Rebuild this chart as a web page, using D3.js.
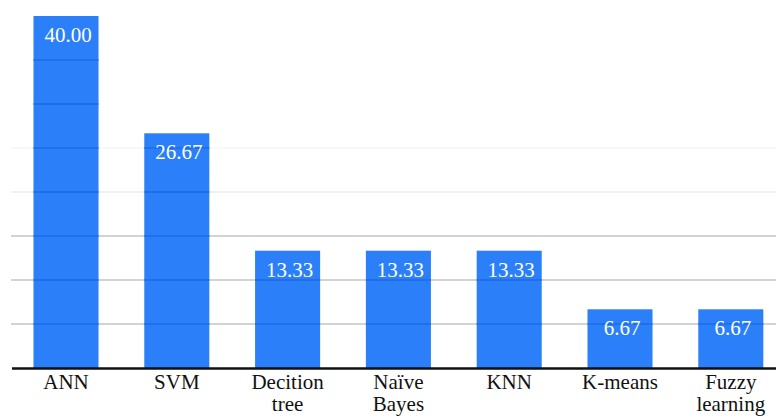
<!DOCTYPE html>
<html>
<head>
<meta charset="utf-8">
<script src="https://cdn.jsdelivr.net/npm/d3@7"></script>
<style>
  body { margin: 0; background: #fff; }
  svg { display: block; }
  text { font-family: "Liberation Serif", "Times New Roman", Tinos, serif; }
</style>
</head>
<body>
<svg></svg>
<script>
var categories = [["ANN"], ["SVM"], ["Decition", "tree"], ["Naïve", "Bayes"], ["KNN"], ["K-means"], ["Fuzzy", "learning"]],
    values = [40.00, 26.67, 13.33, 13.33, 13.33, 6.67, 6.67],
    gridTicks = [5, 10, 15, 20, 25, 30, 35]

var width = 776, height = 417

var svg = d3.select("svg")
    .attr("width", width)
    .attr("height", height)

var x = d3.scaleBand()
    .domain(d3.range(categories.length))
    .range([10.6, 786.2])
    .paddingInner(0.413)
    .paddingOuter(0.2065)

var y = d3.scaleLinear()
    .domain([0, 40])
    .range([368, 16])

// faint gridlines in the background, fading out towards the top
var gridColor = d => d <= 15 ? "#c4c4c4" : d == 20 ? "#ececec" : d == 25 ? "#f6f6f6" : "none"

svg.selectAll("line.grid")
    .data(gridTicks)
    .enter().append("line")
    .attr("class", "grid")
    .attr("x1", 11)
    .attr("x2", width)
    .attr("y1", d => y(d))
    .attr("y2", d => y(d))
    .style("stroke", gridColor)
    .style("stroke-width", "1.3px")

var bar = svg.selectAll("g.bar")
    .data(values)
    .enter().append("g")
    .attr("class", "bar")

bar.append("rect")
    .attr("x", (d, i) => x(i))
    .attr("y", d => y(d))
    .attr("width", x.bandwidth())
    .attr("height", d => y(0) - y(d))
    .style("fill", "#2b7ff8")

// gridlines show through the bars as darker bands
bar.each(function (v, i) {
    d3.select(this).selectAll("line")
        .data(gridTicks.filter(t => t < v))
        .enter().append("line")
        .attr("x1", x(i))
        .attr("x2", x(i) + x.bandwidth())
        .attr("y1", d => y(d))
        .attr("y2", d => y(d))
        .style("stroke", "#1c6be6")
        .style("stroke-width", "1.5px")
})

bar.append("text")
    .attr("x", (d, i) => x(i) + x.bandwidth() / 2 + 2)
    .attr("y", d => y(d) + 26)
    .attr("text-anchor", "middle")
    .style("font-size", "21px")
    .style("fill", "#fff")
    .text(d => d.toFixed(2))

svg.append("line")
    .attr("x1", 12)
    .attr("x2", width)
    .attr("y1", y(0) + 0.5)
    .attr("y2", y(0) + 0.5)
    .style("stroke", "#111")
    .style("stroke-width", "2.5px")

var label = svg.selectAll("text.cat")
    .data(categories)
    .enter().append("text")
    .attr("class", "cat")
    .attr("text-anchor", "middle")
    .attr("x", (d, i) => x(i) + x.bandwidth() / 2)
    .attr("y", 389)
    .style("font-size", "21px")
    .style("fill", "#111")

label.selectAll("tspan")
    .data(d => d)
    .enter().append("tspan")
    .attr("x", function () { return d3.select(this.parentNode).attr("x") })
    .attr("dy", (d, i) => i ? 22 : 0)
    .text(d => d)
</script>
</body>
</html>
